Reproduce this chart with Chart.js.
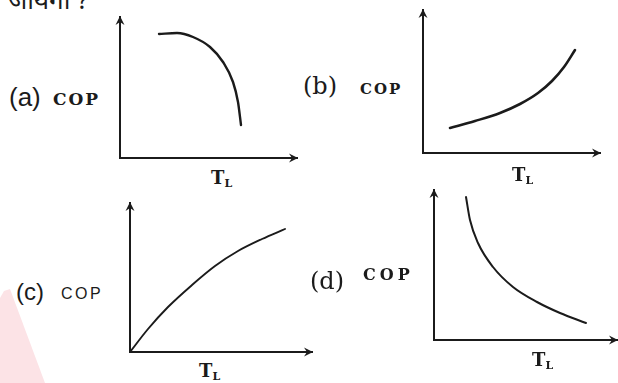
<!DOCTYPE html>
<html>
<head>
<meta charset="utf-8">
<script src="https://cdn.jsdelivr.net/npm/chart.js@4"></script>
<style>
  body { margin: 0; width: 618px; height: 383px; overflow: hidden; background: #fff; position: relative; color: #1b1b1b; }
  canvas, .t, .blot { position: absolute; }
  .t { white-space: nowrap; line-height: 1; }
  .sans { font-family: "Liberation Sans", Arial, sans-serif; }
  .serif { font-family: "DejaVu Serif", serif; }
  .cop { font-family: "DejaVu Serif", serif; font-weight: bold; }
  .tl { font-family: "DejaVu Serif", serif; font-weight: bold; font-size: 18px; }
  .tl sub { font-size: 11px; vertical-align: -3px; }
  .blot { left: 0; top: 285px; width: 50px; height: 98px; background: #fce3e6;
          clip-path: polygon(0 13px, 4px 6px, 10px 4px, 45px 98px, 0 98px); }
</style>
</head>
<body>
<div class="blot"></div>
<div class="t" style="left:8px;top:-14px;font-size:26px;font-family:'Noto Sans',sans-serif">जायेगा ?</div>

<canvas id="pa"></canvas>
<canvas id="pb"></canvas>
<canvas id="pc"></canvas>
<canvas id="pd"></canvas>

<div class="t sans" style="left:9px;top:84px;font-size:26px">(a)</div>
<div class="t cop" style="left:53px;top:91px;font-size:17px;letter-spacing:2px">COP</div>
<div class="t tl" style="left:211px;top:169px">T<sub>L</sub></div>

<div class="t serif" style="left:303px;top:74px;font-size:24px">(b)</div>
<div class="t cop" style="left:360px;top:82px;font-size:15px;letter-spacing:2px">COP</div>
<div class="t tl" style="left:512px;top:166px">T<sub>L</sub></div>

<div class="t sans" style="left:16px;top:280px;font-size:24px">(c)</div>
<div class="t sans" style="left:61px;top:286px;font-size:16px;letter-spacing:2.5px">COP</div>
<div class="t tl" style="left:199px;top:362px">T<sub>L</sub></div>

<div class="t serif" style="left:310px;top:269px;font-size:24px">(d)</div>
<div class="t cop" style="left:363px;top:267px;font-size:16px;letter-spacing:4px">COP</div>
<div class="t tl" style="left:532px;top:351px">T<sub>L</sub></div>

<script>
// curve points read off the sketches, in axis units (1 unit ~ 1 px from the origin)
// (a) flat at first, then COP drops steeply
const aT   = [39, 57, 73, 90, 103, 113, 118, 121];
const aCOP = [124, 125, 121, 111, 96, 76, 56, 33];
// (b) rises, getting steeper
const bT   = [27, 52, 77, 97, 115, 129, 141, 152];
const bCOP = [25, 32, 40, 49, 60, 72, 86, 103];
// (c) starts at the origin, rises and flattens
const cT   = [0, 18, 38, 62, 85, 108, 132, 155];
const cCOP = [0, 23, 45, 67, 86, 101, 113, 123];
// (d) falls like a hyperbola
const dT   = [32, 36, 44, 59, 79, 103, 126, 152];
const dCOP = [143, 120, 97, 73, 53, 38, 27, 17];

const INK = '#1b1b1b';
const PAD = { left: 8, right: 4, top: 4, bottom: 6 };

// little filled arrow tips at the end of both axes
const arrowheads = {
  id: 'arrowheads',
  afterDraw(chart) {
    const { ctx, chartArea: a } = chart;
    ctx.save();
    ctx.fillStyle = INK;
    ctx.beginPath();
    ctx.moveTo(a.left, a.top - 1);
    ctx.lineTo(a.left - 4.5, a.top + 8);
    ctx.lineTo(a.left, a.top + 5);
    ctx.lineTo(a.left + 4.5, a.top + 8);
    ctx.closePath();
    ctx.fill();
    ctx.beginPath();
    ctx.moveTo(a.right + 1, a.bottom);
    ctx.lineTo(a.right - 8, a.bottom - 4.5);
    ctx.lineTo(a.right - 5, a.bottom);
    ctx.lineTo(a.right - 8, a.bottom + 4.5);
    ctx.closePath();
    ctx.fill();
    ctx.restore();
  }
};

function axis(max) {
  return {
    type: 'linear', min: 0, max: max,
    grid: { display: false, drawTicks: false },
    ticks: { display: false },
    border: { color: INK, width: 2 }
  };
}

// ox, oy = where the two axes meet on the page
function makePanel(id, t, cop, ox, oy, xMax, yMax, lw) {
  const cv = document.getElementById(id);
  cv.width = xMax + PAD.left + PAD.right;
  cv.height = yMax + PAD.top + PAD.bottom;
  cv.style.left = (ox - PAD.left) + 'px';
  cv.style.top = (oy - yMax - PAD.top) + 'px';
  new Chart(cv, {
    type: 'line',
    data: {
      datasets: [{
        data: t.map((x, i) => ({ x, y: cop[i] })),
        borderColor: INK,
        borderWidth: lw,
        borderCapStyle: 'round',
        pointRadius: 0,
        cubicInterpolationMode: 'monotone',
        fill: false
      }]
    },
    options: {
      responsive: false,
      animation: false,
      events: [],
      layout: { padding: PAD },
      plugins: { legend: { display: false }, tooltip: { enabled: false } },
      scales: { x: axis(xMax), y: axis(yMax) }
    },
    plugins: [arrowheads]
  });
}

makePanel('pa', aT, aCOP, 120, 158, 177, 141, 2.4);
makePanel('pb', bT, bCOP, 423, 153, 177, 143, 2.6);
makePanel('pc', cT, cCOP, 130, 352, 182, 149, 1.9);
makePanel('pd', dT, dCOP, 434, 340, 183, 150, 2);
</script>
</body>
</html>
